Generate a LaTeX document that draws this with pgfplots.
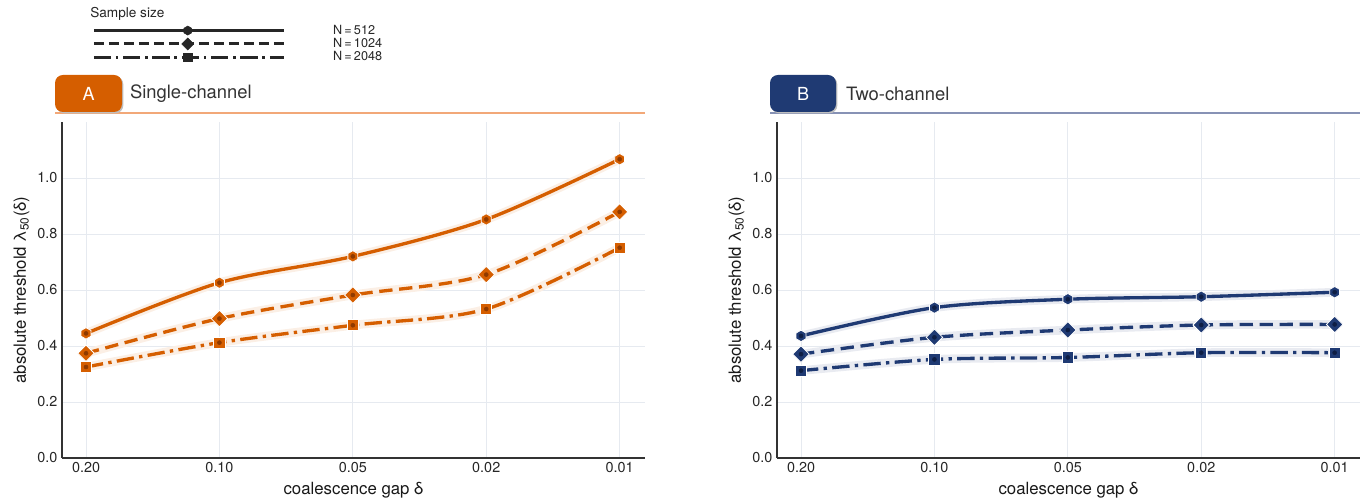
\documentclass[border=0pt]{standalone}
\usepackage{fontspec}
\setmainfont{TeX Gyre Heros}
\usepackage{pgfplots}
\usepackage{pgfplotstable}
\pgfplotsset{compat=1.18}

\definecolor{orng}{HTML}{D55E00}
\definecolor{orngdk}{HTML}{8F3A00}
\definecolor{orngline}{HTML}{F2A878}
\definecolor{nvy}{HTML}{1F3A73}
\definecolor{nvydk}{HTML}{0E1E44}
\definecolor{nvyline}{HTML}{8792B5}
\definecolor{gridc}{HTML}{E6EAF0}

\pgfdeclareplotmark{hexagon}{%
  \pgfpathmoveto{\pgfpointpolar{90}{\pgfplotmarksize}}%
  \pgfpathlineto{\pgfpointpolar{150}{\pgfplotmarksize}}%
  \pgfpathlineto{\pgfpointpolar{210}{\pgfplotmarksize}}%
  \pgfpathlineto{\pgfpointpolar{270}{\pgfplotmarksize}}%
  \pgfpathlineto{\pgfpointpolar{330}{\pgfplotmarksize}}%
  \pgfpathlineto{\pgfpointpolar{30}{\pgfplotmarksize}}%
  \pgfpathclose
  \pgfusepathqfillstroke}
\pgfdeclareplotmark{rdiamond}{%
  \pgfpathmoveto{\pgfqpoint{0pt}{\pgfplotmarksize}}%
  \pgfpathlineto{\pgfqpoint{\pgfplotmarksize}{0pt}}%
  \pgfpathlineto{\pgfqpoint{0pt}{-\pgfplotmarksize}}%
  \pgfpathlineto{\pgfqpoint{-\pgfplotmarksize}{0pt}}%
  \pgfpathclose
  \pgfusepathqfillstroke}

\pgfplotstableread{
x n512 n1024 n2048
0 0.445 0.374 0.325
1 0.626 0.498 0.412
2 0.720 0.582 0.474
3 0.852 0.655 0.532
4 1.067 0.879 0.751
}\tabA
\pgfplotstableread{
x n512 n1024 n2048
0 0.436 0.371 0.312
1 0.537 0.431 0.352
2 0.567 0.457 0.359
3 0.576 0.475 0.376
4 0.592 0.477 0.376
}\tabB

\pgfplotsset{
  panel/.style={
    scale only axis, width=437.25pt, height=252pt,
    xmin=-0.18, xmax=4.19, ymin=0, ymax=1.2,
    axis x line*=bottom, axis y line*=left,
    axis line style={black!80, line width=0.8pt, -},
    xtick={0,1,2,3,4}, xticklabels={0.20,0.10,0.05,0.02,0.01},
    ytick={0,0.2,0.4,0.6,0.8,1.0},
    yticklabel style={/pgf/number format/.cd, fixed, fixed zerofill, precision=1},
    /pgf/number format/assume math mode=true,
    grid=major, grid style={gridc, line width=0.6pt},
    major tick length=0pt,
    tick label style={font=\fontsize{10.8}{12}\selectfont, text=black!85},
    label style={font=\fontsize{12.6}{14}\selectfont, text=black!90},
    xlabel={coalescence gap δ},
    ylabel={absolute threshold λ\textsubscript{50}(δ)},
    ylabel style={yshift=-1pt},
    clip=false,
  },
  halo/.style={#1!10, line width=6.5pt, smooth, forget plot},
  ln/.style={#1, line width=2.5pt, smooth},
  dots/.style={only marks, mark=*, mark size=1.5pt, #1, forget plot},
  legA/.style={legend image code/.code={
    \draw[black!85, line width=2.2pt] (0pt,0pt) -- (142.5pt,0pt);
    \draw[black!85, fill=black!85, line width=0.4pt] plot[mark=hexagon, mark size=3.4pt] coordinates {(70.5pt,0pt)};
  }},
  legB/.style={legend image code/.code={
    \draw[black!85, line width=2.2pt, dash pattern=on 7.5pt off 3.75pt] (0pt,0pt) -- (142.5pt,0pt);
    \draw[black!85, fill=black!85, line width=0.4pt] plot[mark=rdiamond, mark size=4.5pt] coordinates {(70.5pt,0pt)};
  }},
  legC/.style={legend image code/.code={
    \draw[black!85, line width=2.2pt, dash pattern=on 13pt off 3.5pt on 2pt off 3.5pt] (0pt,0pt) -- (142.5pt,0pt);
    \draw[black!85, fill=black!85, line width=0.4pt] plot[mark=square*, mark size=3.3pt] coordinates {(70.5pt,0pt)};
  }},
}

\begin{document}
\begin{tikzpicture}
\useasboundingbox (0,0) rectangle (1026.75pt,376.5pt);

% headers
\draw[orngline, line width=1.6pt] (41.25pt,291.75pt) -- (483.75pt,291.75pt);
\fill[black!25, rounded corners=6pt] (42.25pt,291.5pt) rectangle (92.5pt,319.25pt);
\fill[orng, rounded corners=6pt] (41.25pt,292.5pt) rectangle (91.5pt,320.25pt);
\node[text=white, font=\fontsize{13.5}{15}\selectfont] at (66.4pt,306.4pt) {A};
\node[anchor=west, text=black!80, font=\fontsize{13.8}{15}\selectfont] at (94pt,306.4pt) {Single-channel};

\draw[nvyline, line width=1.6pt] (577.5pt,291.75pt) -- (1020pt,291.75pt);
\fill[black!25, rounded corners=6pt] (578.5pt,291.5pt) rectangle (628pt,319.25pt);
\fill[nvy, rounded corners=6pt] (577.5pt,292.5pt) rectangle (627pt,320.25pt);
\node[text=white, font=\fontsize{13.5}{15}\selectfont] at (602.25pt,306.4pt) {B};
\node[anchor=west, text=black!80, font=\fontsize{13.8}{15}\selectfont] at (631pt,306.4pt) {Two-channel};

\node[anchor=west, inner sep=0pt, text=black!85, font=\fontsize{10.2}{11}\selectfont] at (67.5pt,366pt) {Sample size};

\begin{axis}[panel, at={(46.5pt,33pt)}, anchor=south west,
  legend style={at={(0.0515,1.292)}, anchor=north west, draw=none, fill=none,
    inner sep=0pt, column sep=34pt, row sep=0.4pt,
    font=\fontsize{9.5}{10}\selectfont,
    nodes={inner ysep=0.6pt, text=black!85}},
  legend cell align=left]
\addlegendimage{legA}\addlegendentry{N\,=\,512}
\addlegendimage{legB}\addlegendentry{N\,=\,1024}
\addlegendimage{legC}\addlegendentry{N\,=\,2048}

\addplot[halo=orng] table[x=x,y=n512]{\tabA};
\addplot[ln=orng, mark=hexagon, mark size=4.3pt, mark options={solid, fill=orng, draw=white, line width=0.6pt}, forget plot] table[x=x,y=n512]{\tabA};
\addplot[dots=orngdk] table[x=x,y=n512]{\tabA};

\addplot[halo=orng] table[x=x,y=n1024]{\tabA};
\addplot[ln=orng, dash pattern=on 10pt off 5pt, mark=rdiamond, mark size=6.2pt, mark options={solid, fill=orng, draw=white, line width=0.6pt}, forget plot] table[x=x,y=n1024]{\tabA};
\addplot[dots=orngdk] table[x=x,y=n1024]{\tabA};

\addplot[halo=orng] table[x=x,y=n2048]{\tabA};
\addplot[ln=orng, dash pattern=on 13pt off 4pt on 2.5pt off 4pt, mark=square*, mark size=4.2pt, mark options={solid, fill=orng, draw=white, line width=0.6pt}, forget plot] table[x=x,y=n2048]{\tabA};
\addplot[dots=orngdk] table[x=x,y=n2048]{\tabA};
\end{axis}

\begin{axis}[panel, at={(582.75pt,33pt)}, anchor=south west]
\addplot[halo=nvy] table[x=x,y=n512]{\tabB};
\addplot[ln=nvy, mark=hexagon, mark size=4.3pt, mark options={solid, fill=nvy, draw=white, line width=0.6pt}] table[x=x,y=n512]{\tabB};
\addplot[dots=nvydk] table[x=x,y=n512]{\tabB};

\addplot[halo=nvy] table[x=x,y=n1024]{\tabB};
\addplot[ln=nvy, dash pattern=on 10pt off 5pt, mark=rdiamond, mark size=6.2pt, mark options={solid, fill=nvy, draw=white, line width=0.6pt}] table[x=x,y=n1024]{\tabB};
\addplot[dots=nvydk] table[x=x,y=n1024]{\tabB};

\addplot[halo=nvy] table[x=x,y=n2048]{\tabB};
\addplot[ln=nvy, dash pattern=on 13pt off 4pt on 2.5pt off 4pt, mark=square*, mark size=4.2pt, mark options={solid, fill=nvy, draw=white, line width=0.6pt}] table[x=x,y=n2048]{\tabB};
\addplot[dots=nvydk] table[x=x,y=n2048]{\tabB};
\end{axis}
\end{tikzpicture}
\end{document}
